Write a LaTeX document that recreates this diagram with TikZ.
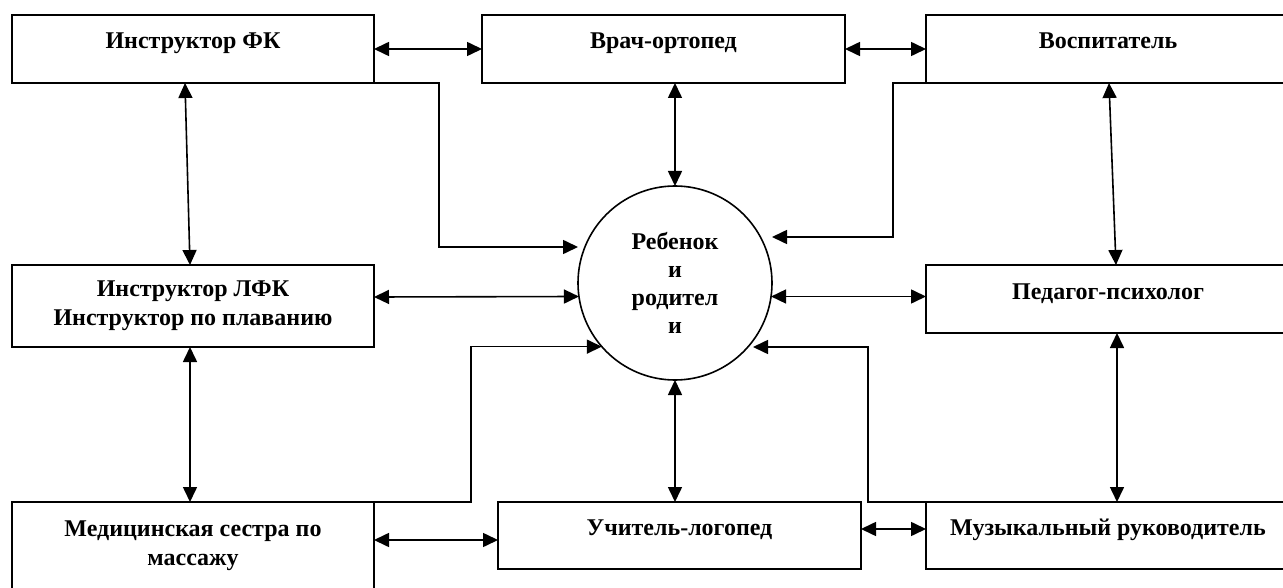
\documentclass[tikz,border=0pt]{standalone}
\usepackage{fontspec}
\setmainfont{Liberation Serif}
\usetikzlibrary{arrows.meta}
\begin{document}
\begin{tikzpicture}[x=1pt,y=-1pt,
  box/.style={draw, line width=1.6pt, inner sep=0pt, outer sep=0pt, font=\bfseries\fontsize{24}{29}\selectfont},
  one/.style={text height=11pt, text depth=11pt},
  conn/.style={line width=1.6pt},
  tip/.style={-{Triangle[length=15pt,width=14pt]}},
  dbl/.style={{Triangle[length=15pt,width=14pt]}-{Triangle[length=15pt,width=14pt]}}
]
\useasboundingbox (0,0) rectangle (1283,588);
\clip (0,0) rectangle (1283,588);
\fill[white] (0,0) rectangle (1283,588);

\node[box, minimum width=362pt, minimum height=68pt, one] (fk) at (193,49) {Инструктор ФК};
\node[box, minimum width=363pt, minimum height=68pt, one] (vr) at (663.5,49) {Врач-ортопед};
\node[box, minimum width=364pt, minimum height=68pt, one] (vo) at (1108,49) {Воспитатель};
\node[box, minimum width=362pt, minimum height=82pt, align=center] (lfk) at (193,306) {Инструктор ЛФК\\Инструктор по плаванию};
\node[box, minimum width=364pt, minimum height=68pt, one] (ped) at (1108,299) {Педагог-психолог};
\node[box, minimum width=362pt, minimum height=88pt, align=center] (med) at (193,546) {Медицинская сестра по\\массажу};
\node[box, minimum width=363pt, minimum height=67pt, one] (uch) at (679.5,535.5) {Учитель-логопед};
\node[box, minimum width=364pt, minimum height=67pt, one] (muz) at (1108,535.5) {Музыкальный руководитель};
\node[draw, circle, line width=1.6pt, minimum size=194pt, inner sep=0pt, outer sep=0pt,
      font=\bfseries\fontsize{24}{28}\selectfont, align=center] (c) at (675,283) {Ребенок\\и\\родител\\и};

\coordinate (e1) at (578,247);
\coordinate (e2) at (772,237);
\coordinate (e4) at (753,347);
\coordinate (m1) at ([yshift=6pt]med.east);
\coordinate (u1) at ([yshift=6.5pt]uch.east);

% straight double arrows
\draw[conn,dbl] (fk.east) -- (vr.west);
\draw[conn,dbl] (vr.east) -- (vo.west);
\draw[conn,dbl] (c.north |- vr.south) -- (c.north);
\draw[conn,dbl] ([xshift=-8pt]fk.south) -- ([xshift=-3pt]lfk.north);
\draw[conn,dbl] ([xshift=-3pt]lfk.south) -- ([xshift=-3pt]med.north);
\draw[conn,dbl] ([yshift=9pt]lfk.east) -- (c.188);
\draw[conn,dbl] (c.-8) -- (c.-8 -| ped.west);
\draw[conn,dbl] ([xshift=1pt]vo.south) -- ([xshift=8pt]ped.north);
\draw[conn,dbl] ([xshift=9pt]ped.south) -- ([xshift=9pt]muz.north);
\draw[conn,dbl] (c.south) -- (c.south |- uch.north);
\draw[conn,dbl] (m1) -- (m1 -| uch.west);
\draw[conn,dbl] (u1) -- (u1 -| muz.west);

% elbow arrows into the circle
\draw[conn,tip] ([xshift=-74pt]fk.south east) -- ([xshift=65pt]fk.south east) |- (e1);
\draw[conn,tip] ([xshift=87pt]vo.south west) -- ([xshift=-33pt]vo.south west) |- (e2);
\draw[conn,tip] ([xshift=-36pt]med.north east) -- ([xshift=97pt]med.north east) |- (c.221);
\draw[conn,tip] ([xshift=57pt]muz.north west) -- ([xshift=-58pt]muz.north west) |- (e4);
\end{tikzpicture}
\end{document}
